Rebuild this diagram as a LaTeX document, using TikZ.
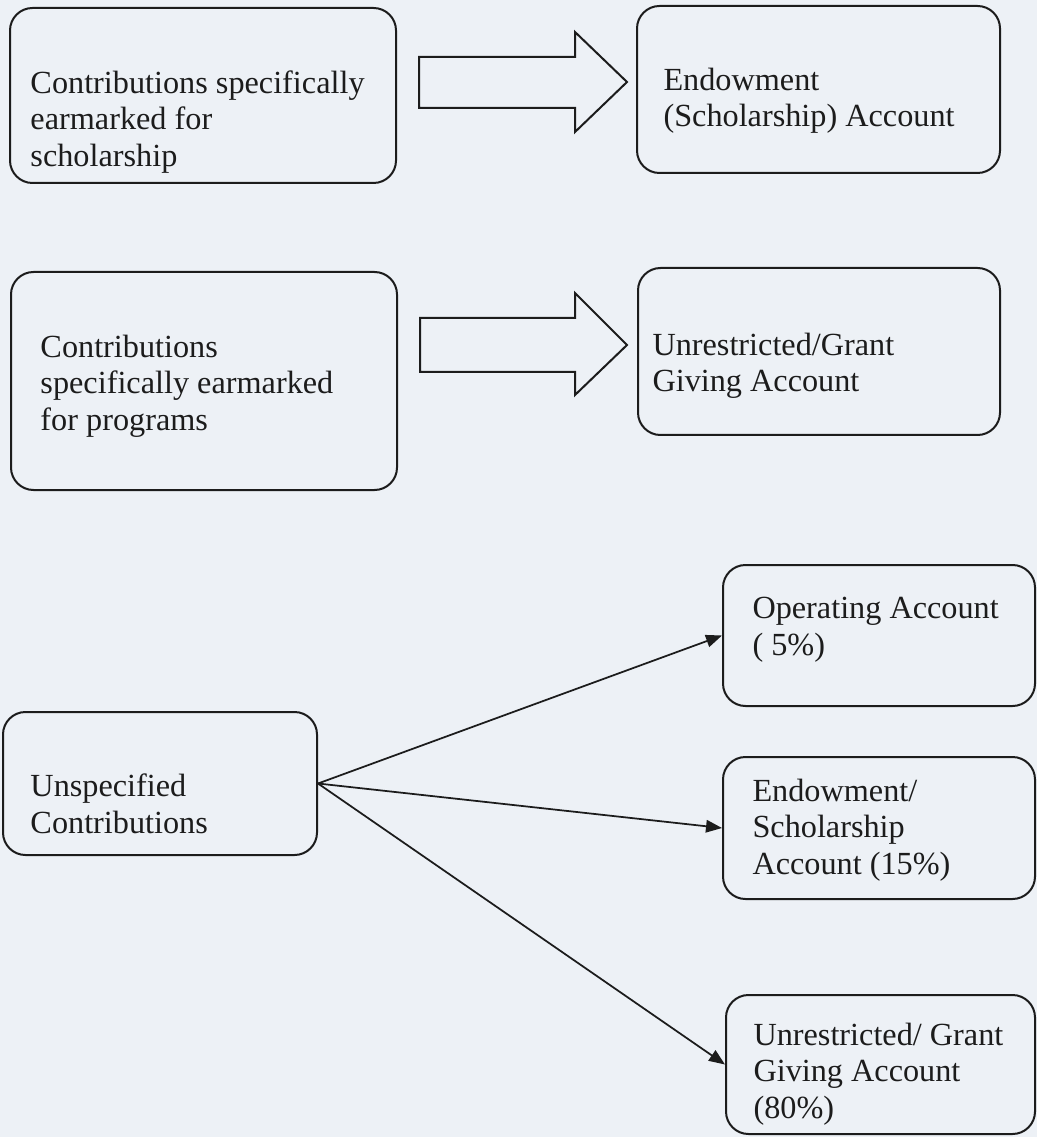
\documentclass[tikz,border=0pt]{standalone}
\usepackage{fontspec}
\setmainfont{Liberation Serif}
\usetikzlibrary{fit,arrows.meta}
\definecolor{paper}{RGB}{237,241,246}
\definecolor{ink}{RGB}{28,28,28}
\tikzset{
  acct/.style={draw=ink, line width=0.8pt, rounded corners=9pt, inner sep=0pt},
  words/.style={anchor=west, align=left, inner sep=0pt, text=ink, font=\fontsize{12.9}{14.6}\selectfont},
  flow/.style={draw=ink, line width=0.7pt, -{Triangle[length=6.4pt,width=5pt]}},
  blockarrow/.style={draw=ink, line width=0.8pt, line join=miter}
}
\begin{document}
\begin{tikzpicture}[x=0.4pt,y=-0.4pt]
\fill[paper] (0,0) rectangle (1037,1137);
\node[acct, fit={(10,8) (396,183)}] (scholin) {};
\node[acct, fit={(637,6) (1000,173)}] (endow) {};
\node[acct, fit={(11,272) (397,490)}] (progin) {};
\node[acct, fit={(638,268) (1000,435)}] (grant) {};
\node[acct, fit={(3,712) (317,855)}] (unspec) {};
\node[acct, fit={(723,565) (1035,706)}] (oper) {};
\node[acct, fit={(723,757) (1035,899)}] (endowsplit) {};
\node[acct, fit={(726,995) (1035,1134)}] (grantsplit) {};
\node[words] (scholintext) at (30,122) {Contributions specifically\\earmarked for\\scholarship};
\node[words] (endowtext) at (663,101) {Endowment\\(Scholarship) Account};
\node[words] (progintext) at (40,386) {Contributions\\specifically earmarked\\for programs};
\node[words] (granttext) at (652,366) {Unrestricted/Grant\\Giving Account};
\node[words] (unspectext) at (30,804) {Unspecified\\Contributions};
\node[words] (opertext) at (752,630) {Operating Account\\( 5\%)};
\node[words] (endowsplittext) at (752,830) {Endowment/\\Scholarship\\Account (15\%)};
\node[words] (grantsplittext) at (753,1074) {Unrestricted/ Grant\\Giving Account\\(80\%)};
\draw[blockarrow] (419,57) -- (575,57) -- (575,32) -- (627,82) -- (575,132) -- (575,108) -- (419,108) -- cycle;
\draw[blockarrow] (420,318) -- (575,318) -- (575,293) -- (627,345) -- (575,395) -- (575,372) -- (420,372) -- cycle;
\draw[flow] (unspec.east) -- (oper.west);
\draw[flow] (unspec.east) -- (endowsplit.west);
\draw[flow] (unspec.east) -- (grantsplit.west);
\end{tikzpicture}
\end{document}
